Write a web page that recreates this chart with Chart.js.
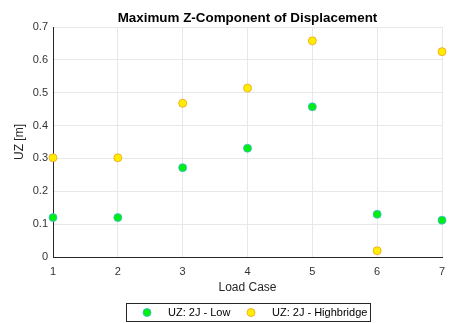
<!DOCTYPE html>
<html>
<head>
<meta charset="utf-8">
<script src="https://cdn.jsdelivr.net/npm/chart.js@4"></script>
<style>
  html, body { margin: 0; padding: 0; background: #fff; }
  #wrap { width: 449px; height: 323px; }
</style>
</head>
<body>
<div id="wrap"><canvas id="chart" width="449" height="323"></canvas></div>
<script>
"use strict";

// ── data ─────────────────────────────────
const loadCases   = [1, 2, 3, 4, 5, 6, 7];
const uzLow       = [0.120, 0.120, 0.272, 0.331, 0.457, 0.130, 0.112];
const uzHigh      = [0.302, 0.302, 0.468, 0.514, 0.658, 0.019, 0.625];
const seriesNames = ["UZ: 2J - Low", "UZ: 2J - Highbridge"];
const yTicks      = [0, 0.1, 0.2, 0.3, 0.4, 0.5, 0.6, 0.7];
const chartTitle  = "Maximum Z-Component of Displacement";

const FONT = "'Liberation Sans', Arial, sans-serif";
const AXIS = "#262626";

// Title centred over the plot area (not the canvas)
const axesTitle = {
  id: "axesTitle",
  afterDraw(chart) {
    const ctx = chart.ctx;
    const a = chart.chartArea;
    ctx.save();
    ctx.font = "bold 13.4px " + FONT;
    ctx.fillStyle = "#000";
    ctx.textAlign = "center";
    ctx.textBaseline = "middle";
    ctx.fillText(chartTitle, (a.left + a.right) / 2, 18);
    ctx.restore();
  },
};

// Boxed legend under the axes
const boxedLegend = {
  id: "boxedLegend",
  afterDraw(chart) {
    const ctx = chart.ctx;
    const x0 = 126, y0 = 303, w = 244, h = 18;
    ctx.save();
    ctx.fillStyle = "#fff";
    ctx.fillRect(x0, y0, w, h);
    ctx.strokeStyle = "#262626";
    ctx.lineWidth = 1;
    ctx.strokeRect(x0 + 0.5, y0 + 0.5, w, h);
    const slots = [147, 251];
    ctx.font = "11px " + FONT;
    ctx.textBaseline = "middle";
    chart.data.datasets.forEach((ds, i) => {
      const cx = slots[i], cy = y0 + h / 2 + 0.5;
      ctx.beginPath();
      ctx.arc(cx, cy, 4, 0, Math.PI * 2);
      ctx.fillStyle = ds.backgroundColor;
      ctx.fill();
      ctx.lineWidth = 0.8;
      ctx.strokeStyle = ds.borderColor;
      ctx.stroke();
      ctx.fillStyle = "#000";
      ctx.fillText(ds.label, cx + 21, cy + 0.5);
    });
    ctx.restore();
  },
};

new Chart(document.getElementById("chart"), {
  type: "scatter",
  data: {
    datasets: [
      {
        label: seriesNames[0],
        data: loadCases.map((c, i) => ({ x: c, y: uzLow[i] })),
        backgroundColor: "#00ee10",
        borderColor: "#3fb8d8",
        borderWidth: 0.8,
        pointRadius: 4,
        clip: false,
      },
      {
        label: seriesNames[1],
        data: loadCases.map((c, i) => ({ x: c, y: uzHigh[i] })),
        backgroundColor: "#ffee00",
        borderColor: "#f0a020",
        borderWidth: 0.8,
        pointRadius: 4,
        clip: false,
      },
    ],
  },
  options: {
    responsive: false,
    animation: false,
    layout: { padding: { left: 0, right: 7, top: 27, bottom: 27 } },
    plugins: {
      legend: { display: false },
      tooltip: { enabled: false },
      title: { display: false },
    },
    scales: {
      x: {
        type: "linear",
        min: 1,
        max: 7,
        afterFit: (s) => { s.height = 39; s.paddingLeft = 0; s.paddingRight = 0; },
        afterBuildTicks: (s) => { s.ticks = loadCases.map((v) => ({ value: v })); },
        border: { display: true, color: AXIS, width: 1 },
        grid: { color: "#e8e8e8", drawTicks: false },
        ticks: {
          color: "#333",
          padding: 8,
          font: { family: FONT, size: 11 },
        },
        title: {
          display: true,
          text: "Load Case",
          color: AXIS,
          font: { family: FONT, size: 12 },
          padding: { top: 0, bottom: 1 },
        },
      },
      y: {
        min: 0,
        max: 0.7,
        afterFit: (s) => { s.width = 53; s.paddingTop = 0; s.paddingBottom = 0; },
        afterBuildTicks: (s) => { s.ticks = yTicks.map((v) => ({ value: v })); },
        border: { display: true, color: AXIS, width: 1 },
        grid: { color: "#e8e8e8", drawTicks: false },
        ticks: {
          color: "#333",
          padding: 5,
          font: { family: FONT, size: 11 },
          callback: (v) => String(Math.round(v * 10) / 10),
        },
        title: {
          display: true,
          text: "UZ [m]",
          color: AXIS,
          font: { family: FONT, size: 12 },
          padding: { top: 12, bottom: 0 },
        },
      },
    },
  },
  plugins: [axesTitle, boxedLegend],
});
</script>
</body>
</html>
